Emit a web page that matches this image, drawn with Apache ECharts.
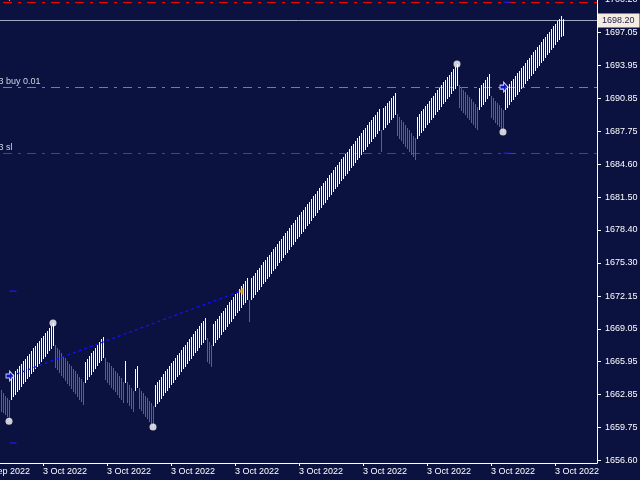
<!DOCTYPE html>
<html><head><meta charset="utf-8">
<script src="https://cdn.jsdelivr.net/npm/echarts@6/dist/echarts.min.js"></script>
<style>html,body{margin:0;padding:0;background:#0b1240;}#c{width:640px;height:480px;}</style>
</head><body><div id="c"></div>
<script>
// ---- data ----
const xTickIdx = [-11, 21, 53, 85, 117, 149, 181, 213, 245, 277];
const xTickLabels = ['30 Sep 2022','3 Oct 2022','3 Oct 2022','3 Oct 2022','3 Oct 2022','3 Oct 2022','3 Oct 2022','3 Oct 2022','3 Oct 2022','3 Oct 2022'];
const yTicks = [1656.60,1659.75,1662.85,1665.95,1669.05,1672.15,1675.30,1678.40,1681.50,1684.60,1687.75,1690.85,1693.95,1697.05,1700.20];

const highs = [
1663.28,1662.97,1662.74,1662.55,1662.34,
1664.62,1664.80,1665.04,1665.28,1665.52,1665.76,1666.00,1666.24,1666.48,1666.72,1666.96,1667.20,1667.44,1667.68,1667.92,1668.16,1668.40,1668.64,1668.88,1669.12,1669.36,1669.60,
1667.53,1667.28,1667.03,1666.78,1666.53,1666.28,1666.03,1665.78,1665.53,1665.28,1665.03,1664.78,1664.53,1664.28,1664.03,
1665.96,1666.22,1666.48,1666.74,1667.00,1667.27,1667.53,1667.79,1668.05,1668.32,
1666.28,1665.96,1665.81,1665.55,1665.33,1665.11,1664.86,1664.61,1664.39,1664.07,
1666.02,
1664.07,1663.76,1663.44,1663.22,
1665.24,1665.55,
1663.47,1663.23,1662.99,1662.74,1662.50,1662.26,1662.01,1661.77,
1663.76,1664.01,1664.27,1664.52,1664.77,1665.03,1665.28,1665.53,1665.79,1666.04,1666.29,1666.55,1666.80,1667.05,1667.30,1667.56,1667.81,1668.06,1668.32,1668.57,1668.82,1669.08,1669.33,1669.58,1669.84,1670.09,
1668.20,1667.85,1667.53,
1669.52,1669.77,1670.03,1670.28,1670.54,1670.79,1671.04,1671.30,1671.55,1671.81,1672.06,1672.31,1672.57,1672.82,1673.08,1673.33,1673.58,1673.84,
1671.79,
1673.84,
1674.09,1674.34,1674.59,1674.84,1675.09,1675.34,1675.59,1675.84,1676.08,1676.33,1676.58,1676.83,1677.08,1677.33,1677.58,1677.83,
1678.08,1678.33,1678.58,1678.83,1679.08,1679.33,1679.58,1679.83,1680.08,1680.32,1680.57,1680.82,1681.07,1681.32,1681.57,1681.82,
1682.07,1682.32,1682.57,1682.82,1683.07,1683.32,1683.57,1683.82,1684.07,1684.32,1684.56,1684.81,1685.06,1685.31,1685.56,1685.81,
1686.06,1686.31,1686.56,1686.81,1687.06,1687.31,1687.56,1687.81,1688.06,1688.31,1688.56,1688.80,1689.05,1689.30,1689.55,1689.80,
1687.85,
1689.93,1690.16,1690.39,1690.63,1690.86,1691.09,1691.32,
1689.33,1689.08,1688.83,1688.57,1688.32,1688.07,1687.82,1687.57,1687.31,1687.06,
1689.10,1689.35,1689.60,1689.85,1690.10,1690.35,1690.59,1690.84,1691.09,1691.34,1691.59,1691.84,1692.09,1692.34,1692.59,1692.84,1693.08,1693.33,1693.58,1693.83,1694.08,
1692.10,1691.87,1691.65,1691.42,1691.19,1690.96,1690.73,1690.51,1690.28,1690.05,
1691.79,1692.06,1692.33,1692.60,1692.87,1693.14,
1691.06,1690.84,1690.62,1690.40,1690.18,1689.96,1689.74,
1691.92,1691.97,1692.21,1692.46,1692.71,1692.95,1693.20,1693.44,1693.69,1693.94,1694.18,1694.43,1694.68,1694.92,1695.17,
1695.42,1695.66,1695.91,1696.16,1696.40,1696.65,1696.89,1697.14,1697.39,1697.63,1697.88,1698.13,1698.37,1698.62,1698.31
];
const lows = [
1661.23,1661.08,1660.92,1660.76,1660.33,
1662.36,1662.60,1662.84,1663.08,1663.32,1663.56,1663.80,1664.04,1664.28,1664.52,1664.76,1665.00,1665.24,1665.48,1665.72,1665.96,1666.20,1666.44,1666.68,1666.92,1667.16,1667.40,
1665.38,1665.13,1664.88,1664.63,1664.38,1664.13,1663.88,1663.63,1663.38,1663.13,1662.88,1662.63,1662.38,1662.13,1661.88,
1663.96,1664.22,1664.48,1664.74,1665.00,1665.27,1665.53,1665.79,1666.05,1666.32,
1664.23,1663.91,1663.76,1663.50,1663.28,1663.06,1662.81,1662.56,1662.34,1662.02,
1663.97,
1662.03,1661.77,1661.46,1661.23,
1663.22,1663.44,
1661.49,1661.25,1661.01,1660.76,1660.52,1660.28,1660.03,1659.79,
1661.68,1661.93,1662.19,1662.44,1662.69,1662.95,1663.20,1663.45,1663.71,1663.96,1664.21,1664.47,1664.72,1664.97,1665.22,1665.48,1665.73,1665.98,1666.24,1666.49,1666.74,1667.00,1667.25,1667.50,1667.76,1668.01,
1665.96,1665.74,1665.48,
1667.46,1667.71,1667.97,1668.22,1668.48,1668.73,1668.98,1669.24,1669.49,1669.75,1670.00,1670.25,1670.51,1670.76,1671.02,1671.27,1671.52,1671.79,
1669.74,
1671.79,
1672.01,1672.26,1672.51,1672.76,1673.01,1673.26,1673.51,1673.76,1674.00,1674.25,1674.50,1674.75,1675.00,1675.25,1675.50,1675.75,
1676.00,1676.25,1676.50,1676.75,1677.00,1677.25,1677.50,1677.75,1678.00,1678.24,1678.49,1678.74,1678.99,1679.24,1679.49,1679.74,
1679.99,1680.24,1680.49,1680.74,1680.99,1681.24,1681.49,1681.74,1681.99,1682.24,1682.48,1682.73,1682.98,1683.23,1683.48,1683.73,
1683.98,1684.23,1684.48,1684.73,1684.98,1685.23,1685.48,1685.73,1685.98,1686.23,1686.48,1686.72,1686.97,1687.22,1687.47,1687.72,
1685.80,
1687.85,1688.08,1688.31,1688.55,1688.78,1689.01,1689.24,
1687.28,1687.03,1686.78,1686.52,1686.27,1686.02,1685.77,1685.52,1685.26,1685.01,
1687.03,1687.28,1687.53,1687.78,1688.03,1688.28,1688.52,1688.77,1689.02,1689.27,1689.52,1689.77,1690.02,1690.27,1690.52,1690.77,1691.01,1691.26,1691.51,1691.76,1692.01,
1689.90,1689.67,1689.45,1689.22,1688.99,1688.76,1688.53,1688.31,1688.08,1687.85,
1689.71,1689.98,1690.25,1690.52,1690.79,1691.06,
1688.98,1688.76,1688.54,1688.32,1688.10,1687.88,1687.66,
1689.72,1689.97,1690.21,1690.46,1690.71,1690.95,1691.20,1691.44,1691.69,1691.94,1692.18,1692.43,1692.68,1692.92,1693.17,
1693.42,1693.66,1693.91,1694.16,1694.40,1694.65,1694.89,1695.14,1695.39,1695.63,1695.88,1696.13,1696.37,1696.62,1696.73
];
// bar direction runs: u = up (white), d = down (blue)
const dirRuns = [['d',5],['u',22],['d',15],['u',10],['d',10],['u',1],['d',4],['u',2],['d',8],['u',26],['d',3],['u',18],['d',1],['u',65],['d',1],['u',7],['d',10],['u',21],['d',10],['u',6],['d',7],['u',30]];

const zigzagIdx = [4, 26, 76, 228, 251];
const zigzagPrice = [1660.33, 1669.60, 1659.79, 1694.08, 1687.66];

const tradeOpenIdx = [5, 252];
const tradeOpenPrice = [1664.60, 1691.90];
const tradeSL = [1658.27, 1685.65];
const tradeTP = [1672.62, 1699.91];
const closedIdx = [120];
const closedPrice = [1672.62];

const levelPrices = [1699.91, 1691.90, 1685.65];
const levelLabels = ['3 tp', '3 buy 0.01', '3 sl'];
const levelColors = ['#ff0000', '#32b432', '#ff0000'];
const bidPrice = 1698.20;

// ---- build ----
const dirs = [];
dirRuns.forEach(([d, n]) => { for (let k = 0; k < n; k++) dirs.push(d); });
const barData = highs.map((h, i) => [i, lows[i], h, dirs[i] === 'u' ? 1 : 0]);

const FONT = 'Liberation Sans';
const XMIN = -0.5, XMAX = 298, YMIN = 1656.38, YMAX = 1700.20;
const chart = echarts.init(document.getElementById('c'), null, {renderer: 'canvas'});

// horizontal price lines, one custom item each (snapped to pixel rows)
const lineItems = levelPrices.map((p, k) => [XMIN, p, k]).concat([[XMIN, bidPrice, -1]]);

const option = {
  backgroundColor: '#0b1240',
  animation: false,
  grid: {left: 0, right: 43, top: -0.74, bottom: 17, containLabel: false, outerBoundsMode: 'none'},
  xAxis: {
    type: 'value', min: XMIN, max: XMAX,
    axisLine: {show: true, onZero: false, lineStyle: {color: '#ffffff', width: 1}},
    axisTick: {show: true, customValues: xTickIdx, length: 3, lineStyle: {color: '#ffffff'}},
    axisLabel: {show: true, customValues: xTickIdx, align: 'left', margin: 4,
      color: '#ffffff', fontSize: 9, fontFamily: FONT,
      formatter: (v) => xTickLabels[xTickIdx.indexOf(v)] || ''},
    splitLine: {show: false}
  },
  yAxis: {
    type: 'value', position: 'right', min: YMIN, max: YMAX,
    axisLine: {show: true, onZero: false, lineStyle: {color: '#ffffff', width: 1}},
    axisTick: {show: true, customValues: yTicks, length: 4, lineStyle: {color: '#ffffff'}},
    axisLabel: {show: true, customValues: yTicks, margin: 8, color: '#ffffff', fontSize: 9, fontFamily: FONT,
      formatter: (v) => v.toFixed(2)},
    splitLine: {show: false}
  },
  series: [
    {
      type: 'custom', name: 'price lines', clip: false, silent: true,
      data: lineItems, encode: {x: 0, y: 1},
      renderItem: (params, api) => {
        const k = api.value(2);
        const cs = params.coordSys;
        const y = Math.floor(api.coord([api.value(0), api.value(1)])[1]) + 0.5;
        if (k < 0) {
          return {type: 'line', shape: {x1: cs.x, y1: y, x2: cs.x + cs.width, y2: y},
            style: {stroke: '#a4a8c4', lineWidth: 1, fill: null}};
        }
        return {type: 'line', shape: {x1: cs.x, y1: y, x2: cs.x + cs.width, y2: y},
          style: {stroke: levelColors[k], lineWidth: 1, lineDash: [9, 6, 3, 6], lineDashOffset: -3, fill: null}};
      },
      z: 3
    },
    {
      type: 'line', name: 'bid', silent: true,
      data: [[XMIN, bidPrice], [XMAX, bidPrice]], symbol: 'none', clip: false,
      lineStyle: {width: 0, opacity: 0}, z: 3,
      endLabel: {show: true, formatter: bidPrice.toFixed(2), distance: 1,
        backgroundColor: '#f6ede2', color: '#1a1f4a', fontSize: 9, fontFamily: FONT,
        padding: [3, 5, 2, 4]}
    },
    {
      // texts: level descriptions + the first (partly off-screen) time label
      type: 'custom', name: 'texts', clip: false, silent: true,
      data: levelPrices.map((p, k) => [XMIN, p, k]).concat([[xTickIdx[0], YMIN, -1]]),
      encode: {x: 0, y: 1},
      renderItem: (params, api) => {
        const k = api.value(2);
        const c = api.coord([api.value(0), api.value(1)]);
        if (k < 0) {
          return {type: 'text', x: c[0], y: c[1] + 4, style: {text: xTickLabels[0], fill: '#ffffff',
            font: '9px "' + FONT + '"', verticalAlign: 'top', align: 'left'}};
        }
        return {type: 'text', x: c[0] - 1.5, y: c[1] - 1.5, style: {text: levelLabels[k], fill: '#d0d4e2',
          font: '9px "' + FONT + '"', verticalAlign: 'bottom', align: 'left'}};
      },
      z: 10
    },
    {
      type: 'custom', name: 'bars', data: barData, clip: true,
      encode: {x: 0, y: [1, 2]},
      renderItem: (params, api) => {
        const i = api.value(0), lo = api.value(1), hi = api.value(2), up = api.value(3);
        const a = api.coord([i, hi]), b = api.coord([i, lo]);
        const x = Math.round(a[0]);
        const y1 = Math.round(a[1]), y2 = Math.round(b[1]);
        return {type: 'rect', shape: {x: x, y: y1, width: 1, height: Math.max(1, y2 - y1)},
          style: {fill: up ? '#ffffff' : '#1f6fd6'}};
      },
      z: 4
    },
    {
      type: 'line', name: 'trade line',
      data: [[tradeOpenIdx[0], tradeOpenPrice[0]], [closedIdx[0], closedPrice[0]]],
      symbol: 'none', lineStyle: {color: '#1010ff', width: 1.3, type: [3, 3]}, z: 5
    },
    {
      type: 'scatter', name: 'sltp', clip: false,
      data: tradeOpenIdx.flatMap((ix, k) => [[ix, tradeSL[k]], [ix, tradeTP[k]]]),
      symbol: 'rect', symbolSize: [7, 1.5], symbolOffset: [2, 0],
      itemStyle: {color: '#1a1aff'}, z: 6
    },
    {
      type: 'scatter', name: 'zigzag', clip: false,
      data: zigzagIdx.map((ix, k) => [ix, zigzagPrice[k]]),
      symbol: 'circle', symbolSize: 7,
      itemStyle: {color: '#ffffff'}, z: 8
    },
    {
      type: 'scatter', name: 'buy', clip: false,
      data: tradeOpenIdx.map((ix, k) => [ix, tradeOpenPrice[k]]),
      symbol: 'path://M0,3L4,3L4,0L9,5L4,10L4,7L0,7Z', symbolSize: [8, 10], symbolOffset: [-1, 0],
      itemStyle: {color: '#0a14e6', borderColor: '#ffffff', borderWidth: 1}, z: 9
    },
    {
      type: 'scatter', name: 'close', clip: false,
      data: closedIdx.map((ix, k) => [ix, closedPrice[k]]),
      symbol: 'path://M0,5L7,0L7,10Z', symbolSize: [5, 8],
      itemStyle: {color: '#eaa616'}, z: 9
    }
  ]
};
chart.setOption(option);
</script></body></html>
